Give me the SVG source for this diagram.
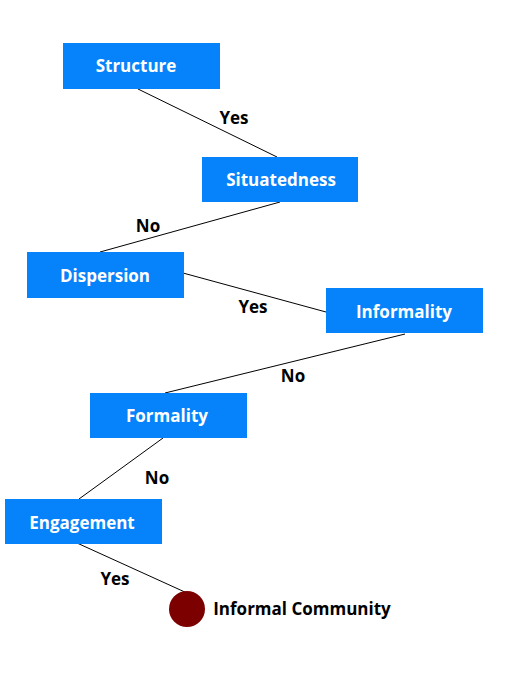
<svg xmlns="http://www.w3.org/2000/svg" width="526" height="695" viewBox="0 0 526 695">
<style>
.box{fill:#0683fa}
.t{font-family:"Open Sans","Liberation Sans",sans-serif;font-weight:bold;font-size:17px;text-anchor:middle;dominant-baseline:central}
.w{fill:#ffffff}
.k{fill:#000000}
.c{stroke:#000;stroke-width:1;fill:none}
</style>
<rect width="526" height="695" fill="#ffffff"/>
<g id="connectors">
<line class="c" x1="138" y1="89" x2="277" y2="157"/>
<line class="c" x1="280" y1="202" x2="100" y2="252"/>
<line class="c" x1="183" y1="273" x2="326" y2="312"/>
<line class="c" x1="405" y1="334" x2="165" y2="393"/>
<line class="c" x1="163" y1="438" x2="79" y2="499"/>
<line class="c" x1="77" y1="543" x2="187" y2="593"/>
<text class="t k" x="234" y="117">Yes</text>
<text class="t k" x="148" y="225">No</text>
<text class="t k" x="253" y="306">Yes</text>
<text class="t k" x="293" y="375">No</text>
<text class="t k" x="157" y="477">No</text>
<text class="t k" x="115" y="578">Yes</text>
</g>
<g id="structure"><rect class="box" x="63" y="43" width="157" height="46"/><text class="t w" x="136" y="65">Structure</text></g>
<g id="situatedness"><rect class="box" x="202" y="157" width="156" height="45"/><text class="t w" x="281" y="179">Situatedness</text></g>
<g id="dispersion"><rect class="box" x="27" y="252" width="157" height="46"/><text class="t w" x="105" y="275">Dispersion</text></g>
<g id="informality"><rect class="box" x="326" y="288" width="157" height="45"/><text class="t w" x="404" y="311">Informality</text></g>
<g id="formality"><rect class="box" x="90" y="393" width="157" height="45"/><text class="t w" x="167" y="415">Formality</text></g>
<g id="engagement"><rect class="box" x="5" y="499" width="157" height="45"/><text class="t w" x="82" y="522">Engagement</text></g>
<g id="informal-community"><circle cx="187" cy="609" r="18" fill="#7d0000"/><text class="t k" x="302" y="608">Informal Community</text></g>
</svg>
